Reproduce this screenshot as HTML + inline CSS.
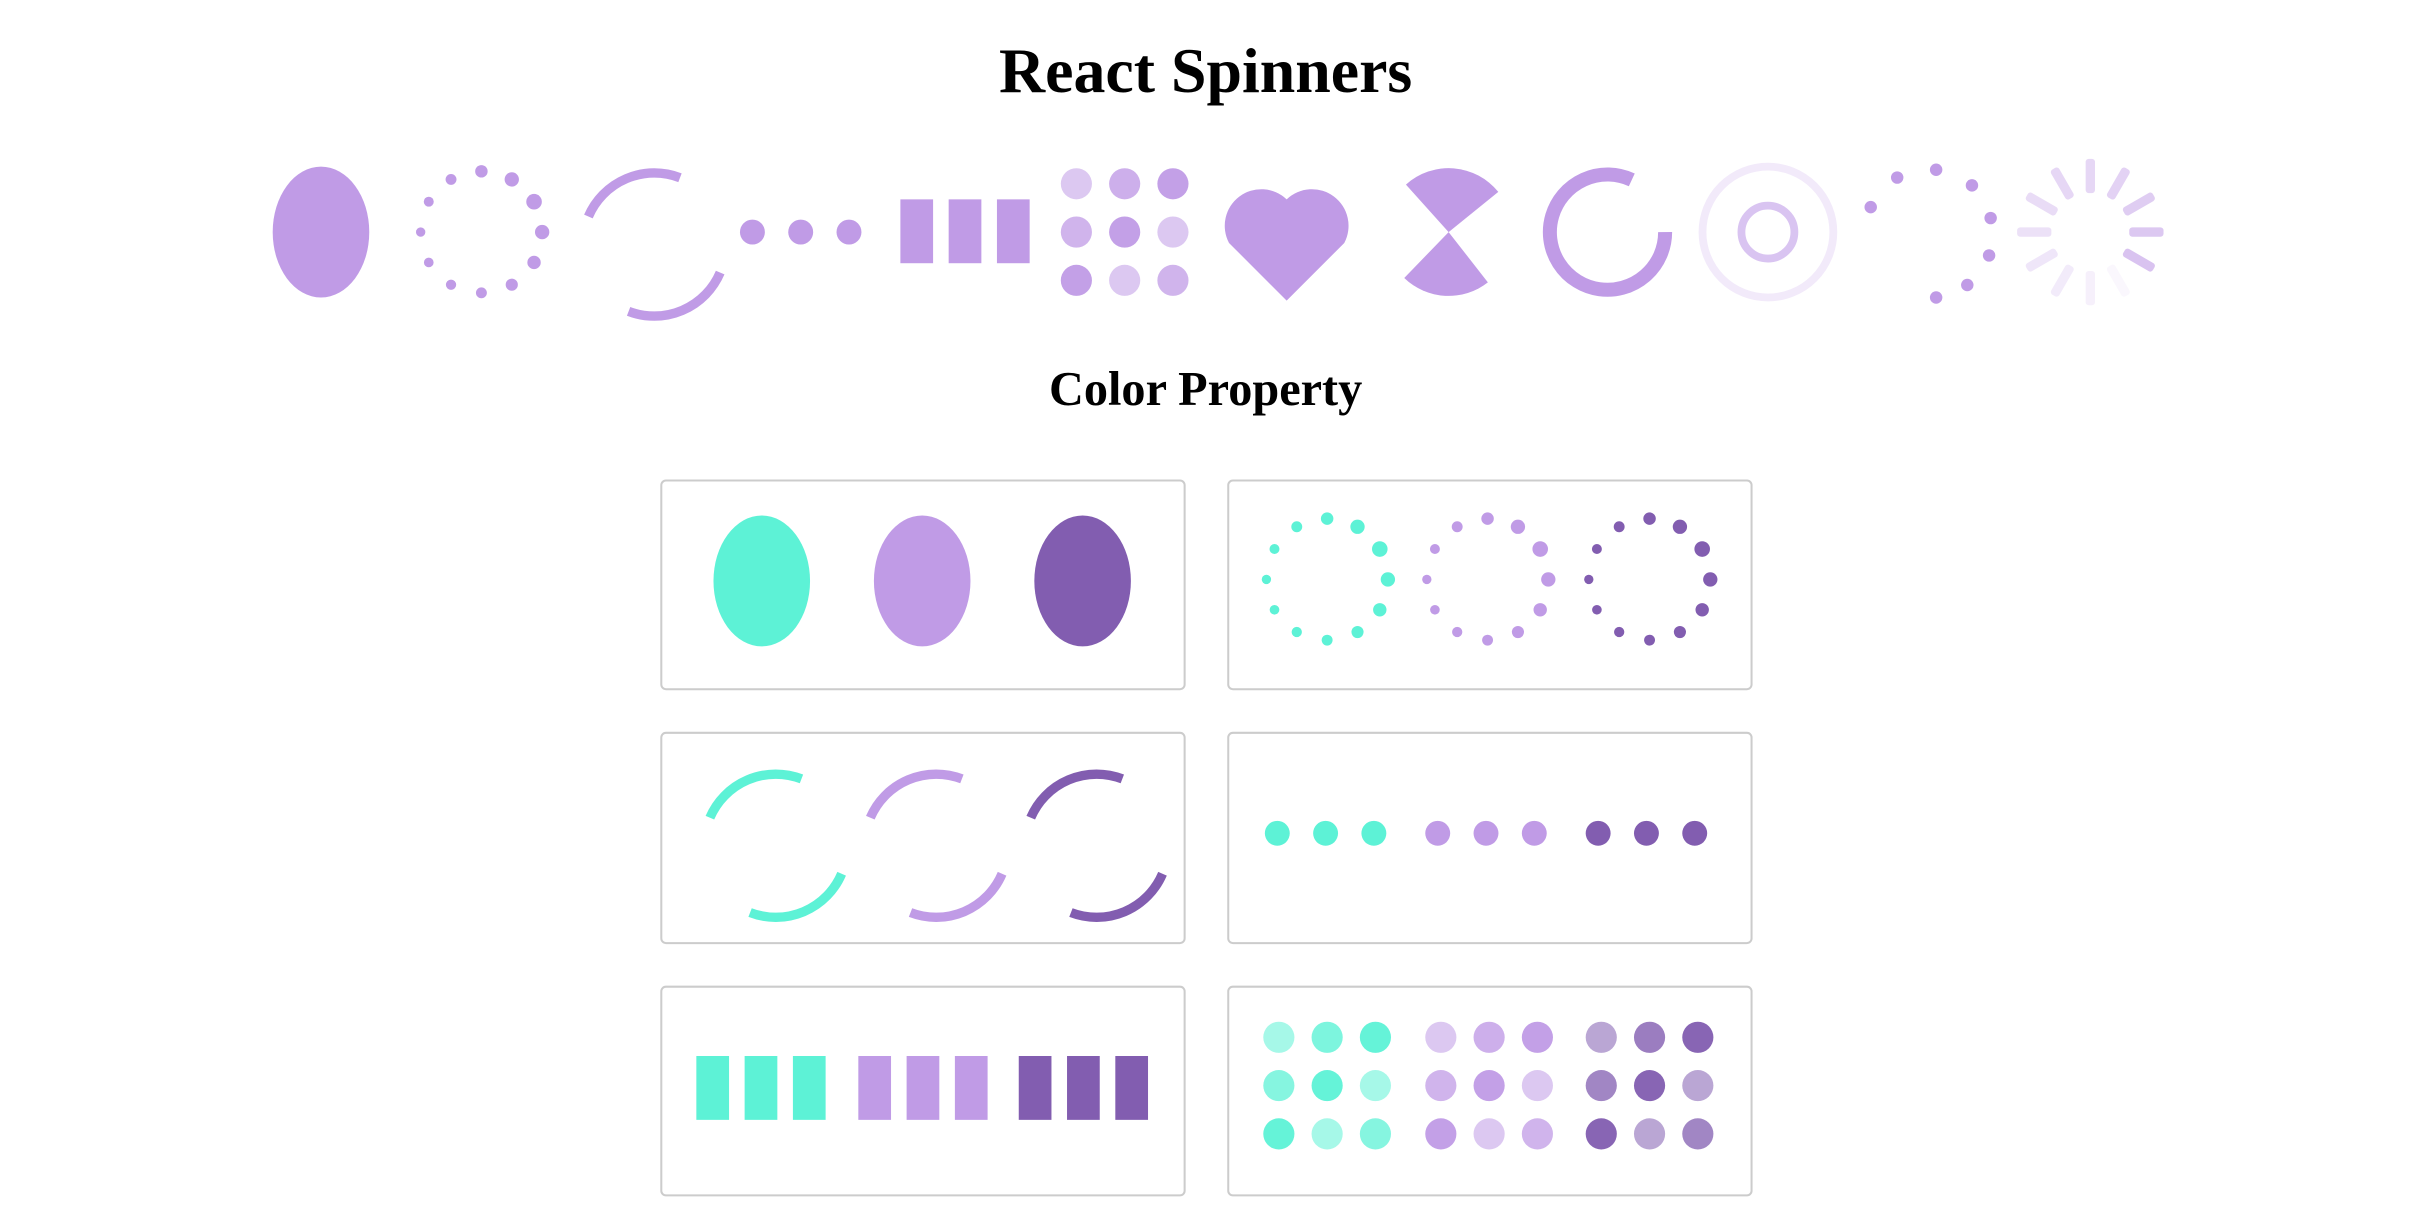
<!DOCTYPE html>
<html><head><meta charset="utf-8"><style>
html,body{margin:0;padding:0;background:#fff;}
svg{display:block;}
</style></head><body>
<svg width="2430" height="1232" viewBox="0 0 1560 791" xmlns="http://www.w3.org/2000/svg">
<defs>
<g id="ring">
 <circle cx="39" cy="0" r="4.6"/><circle cx="33.8" cy="19.5" r="4.3"/><circle cx="19.5" cy="33.8" r="3.9"/>
 <circle cx="0" cy="39" r="3.5"/><circle cx="-19.5" cy="33.8" r="3.3"/><circle cx="-33.8" cy="19.5" r="3.1"/>
 <circle cx="-39" cy="0" r="3"/><circle cx="-33.8" cy="-19.5" r="3.2"/><circle cx="-19.5" cy="-33.8" r="3.5"/>
 <circle cx="0" cy="-39" r="4"/><circle cx="19.5" cy="-33.8" r="4.6"/><circle cx="33.8" cy="-19.5" r="5"/>
</g>
<g id="arcs" fill="none" stroke-width="6">
 <path d="M-42.3 -18 A46 46 0 0 1 16.5 -42.9"/>
 <path d="M42.3 18 A46 46 0 0 1 -16.5 42.9"/>
</g>
<g id="dots3"><circle cx="0" cy="0" r="8"/><circle cx="31" cy="0" r="8"/><circle cx="62" cy="0" r="8"/></g>
<g id="bars"><rect x="0" y="0" width="21" height="41"/><rect x="31" y="0" width="21" height="41"/><rect x="62" y="0" width="21" height="41"/></g>
<g id="grid">
 <circle cx="0" cy="0" r="10" opacity=".55"/><circle cx="31" cy="0" r="10" opacity=".8"/><circle cx="62" cy="0" r="10" opacity=".95"/>
 <circle cx="0" cy="31" r="10" opacity=".75"/><circle cx="31" cy="31" r="10" opacity=".95"/><circle cx="62" cy="31" r="10" opacity=".55"/>
 <circle cx="0" cy="62" r="10" opacity=".95"/><circle cx="31" cy="62" r="10" opacity=".55"/><circle cx="62" cy="62" r="10" opacity=".75"/>
</g>
</defs>

<text x="774" y="59" text-anchor="middle" font-family="Liberation Serif, serif" font-weight="bold" font-size="41">React Spinners</text>

<g fill="#c09be6" stroke="#c09be6">
 <ellipse cx="206" cy="149" rx="31" ry="42" stroke="none"/>
 <use href="#ring" x="309" y="149" stroke="none"/>
 <use href="#arcs" x="420" y="157" fill="none"/>
 <use href="#dots3" x="483" y="149" stroke="none"/>
 <use href="#bars" x="578" y="128" stroke="none"/>
 <use href="#grid" x="691" y="118" stroke="none"/>
 <path d="M826 193 L789 156 A23.5 23.5 0 0 1 826 128 A23.5 23.5 0 0 1 863 156 Z" stroke="none"/>
 <g transform="translate(930,149)" stroke="none">
  <path d="M0 0 L-27.4 -30.5 A41 41 0 0 1 31.9 -25.8 Z"/>
  <path d="M0 0 L25.2 32.3 A41 41 0 0 1 -28.5 29.5 Z"/>
 </g>
 <path d="M1069 149 A37 37 0 1 1 1047.6 115.5" fill="none" stroke-width="9"/>
</g>
<circle cx="1135" cy="149" r="42" fill="none" stroke="#f2eafa" stroke-width="5"/>
<circle cx="1135" cy="149" r="17" fill="none" stroke="#d9c4f1" stroke-width="5"/>
<g fill="#c09be6">
 <circle cx="1201" cy="133" r="4"/><circle cx="1218" cy="114" r="4"/><circle cx="1243" cy="109" r="4"/>
 <circle cx="1266" cy="119" r="4"/><circle cx="1278" cy="140" r="4"/><circle cx="1277" cy="164" r="4"/>
 <circle cx="1263" cy="183" r="4"/><circle cx="1243" cy="191" r="4"/>
</g>
<g transform="translate(1342,149)" fill="#c09be6">
 <rect x="-3" y="-47" width="6" height="22" rx="2" opacity=".4"/>
 <rect x="-3" y="-47" width="6" height="22" rx="2" opacity=".45" transform="rotate(30)"/>
 <rect x="-3" y="-47" width="6" height="22" rx="2" opacity=".5" transform="rotate(60)"/>
 <rect x="-3" y="-47" width="6" height="22" rx="2" opacity=".55" transform="rotate(90)"/>
 <rect x="-3" y="-47" width="6" height="22" rx="2" opacity=".6" transform="rotate(120)"/>
 <rect x="-3" y="-47" width="6" height="22" rx="2" opacity=".08" transform="rotate(150)"/>
 <rect x="-3" y="-47" width="6" height="22" rx="2" opacity=".15" transform="rotate(180)"/>
 <rect x="-3" y="-47" width="6" height="22" rx="2" opacity=".2" transform="rotate(210)"/>
 <rect x="-3" y="-47" width="6" height="22" rx="2" opacity=".25" transform="rotate(240)"/>
 <rect x="-3" y="-47" width="6" height="22" rx="2" opacity=".3" transform="rotate(270)"/>
 <rect x="-3" y="-47" width="6" height="22" rx="2" opacity=".35" transform="rotate(300)"/>
 <rect x="-3" y="-47" width="6" height="22" rx="2" opacity=".4" transform="rotate(330)"/>
</g>

<text x="774" y="260" text-anchor="middle" font-family="Liberation Serif, serif" font-weight="bold" font-size="31">Color Property</text>

<g fill="none" stroke="#cccccc" stroke-width="1.3">
 <rect x="424.5" y="308.5" width="336" height="134" rx="3"/>
 <rect x="788.5" y="308.5" width="336" height="134" rx="3"/>
 <rect x="424.5" y="470.5" width="336" height="135" rx="3"/>
 <rect x="788.5" y="470.5" width="336" height="135" rx="3"/>
 <rect x="424.5" y="633.5" width="336" height="134" rx="3"/>
 <rect x="788.5" y="633.5" width="336" height="134" rx="3"/>
</g>

<ellipse cx="489" cy="373" rx="31" ry="42" fill="#5df2d6"/>
<ellipse cx="592" cy="373" rx="31" ry="42" fill="#c09be6"/>
<ellipse cx="695" cy="373" rx="31" ry="42" fill="#825db0"/>

<use href="#ring" x="852" y="372" fill="#5df2d6"/>
<use href="#ring" x="955" y="372" fill="#c09be6"/>
<use href="#ring" x="1059" y="372" fill="#825db0"/>

<use href="#arcs" x="498" y="543" stroke="#5df2d6"/>
<use href="#arcs" x="601" y="543" stroke="#c09be6"/>
<use href="#arcs" x="704" y="543" stroke="#825db0"/>

<use href="#dots3" x="820" y="535" fill="#5df2d6"/>
<use href="#dots3" x="923" y="535" fill="#c09be6"/>
<use href="#dots3" x="1026" y="535" fill="#825db0"/>

<use href="#bars" x="447" y="678" fill="#5df2d6"/>
<use href="#bars" x="551" y="678" fill="#c09be6"/>
<use href="#bars" x="654" y="678" fill="#825db0"/>

<use href="#grid" x="821" y="666" fill="#5df2d6"/>
<use href="#grid" x="925" y="666" fill="#c09be6"/>
<use href="#grid" x="1028" y="666" fill="#825db0"/>
</svg>
</body></html>
